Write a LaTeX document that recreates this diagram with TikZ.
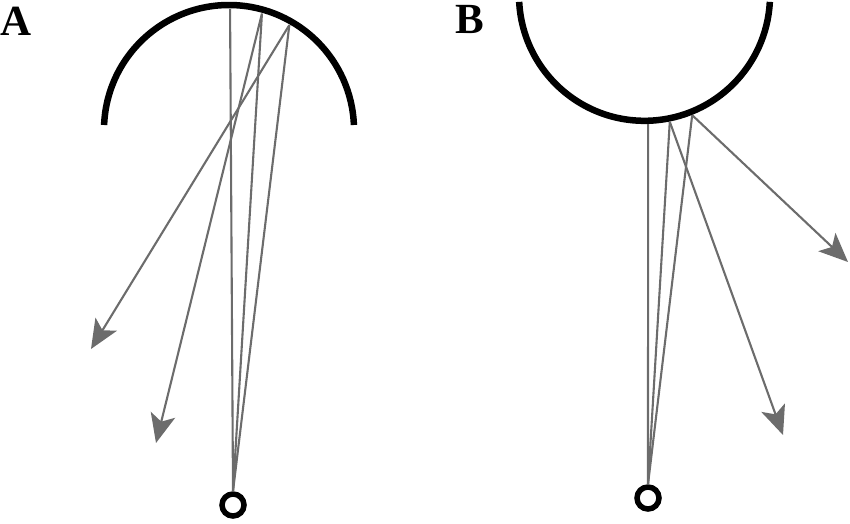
\documentclass[tikz,border=0pt]{standalone}
\usepackage{fontspec}
\setmainfont{Liberation Serif}
\usetikzlibrary{arrows.meta}
\definecolor{raygray}{RGB}{108,108,108}
\begin{document}
\begin{tikzpicture}[x=1pt,y=-1pt,
  mirror/.style={line width=6.5pt, black},
  ray/.style={draw=raygray, line width=2.1pt},
  arrowray/.style={ray, -{Stealth[length=29pt,width=25pt,inset=7pt]}, fill=raygray},
  source/.style={circle, draw=black, line width=5.5pt, minimum size=22pt, inner sep=0pt},
  panellabel/.style={anchor=base west, inner sep=0pt, font=\fontsize{43}{43}\selectfont\bfseries}]
\useasboundingbox (0,0) rectangle (850,523);

% Panel A
\node[panellabel] (lA) at (0,35) {A};
\coordinate (cA) at (229,130);
\draw[mirror] (cA) ++(182.3:125) arc[start angle=182.3, end angle=357.7, radius=125];
\path (cA) ++(-89.5:121) coordinate (a0);
\path (cA) ++(-74.2:121) coordinate (a1);
\path (cA) ++(-60.1:121) coordinate (a2);
\coordinate (ta1) at (156,443);
\coordinate (ta2) at (91,349);
\node[source] (sA) at (233,505) {};
\draw[ray] (sA.north) -- (a0);
\draw[ray] (sA.north) -- (a1);
\draw[ray] (sA.north) -- (a2);
\draw[arrowray] (a1) -- (ta1);
\draw[arrowray] (a2) -- (ta2);

% Panel B
\node[panellabel] (lB) at (455,33) {B};
\coordinate (cB) at (644.5,-4.7);
\draw[mirror] (cB) ++(177:125.5) arc[start angle=177, end angle=3, radius=125.5];
\path (cB) ++(88.4:129) coordinate (b0);
\path (cB) ++(78.7:129) coordinate (b1);
\path (cB) ++(68.3:129) coordinate (b2);
\coordinate (tb1) at (783,435);
\coordinate (tb2) at (848,262);
\node[source] (sB) at (648,498) {};
\draw[ray] (sB.north) -- (b0);
\draw[ray] (sB.north) -- (b1);
\draw[ray] (sB.north) -- (b2);
\draw[arrowray] (b1) -- (tb1);
\draw[arrowray] (b2) -- (tb2);
\end{tikzpicture}
\end{document}
